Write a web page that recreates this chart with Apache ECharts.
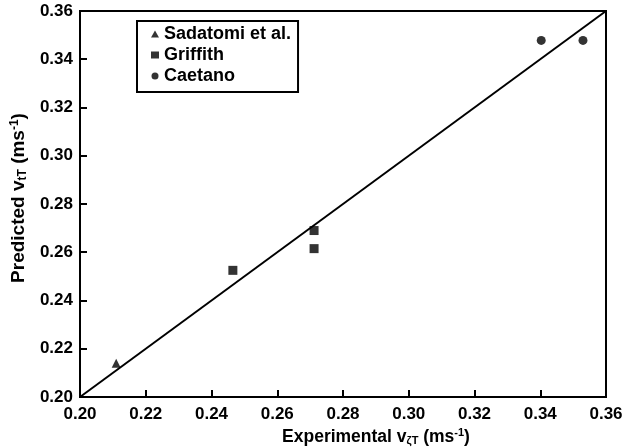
<!DOCTYPE html>
<html>
<head>
<meta charset="utf-8">
<script src="https://cdn.jsdelivr.net/npm/echarts@6/dist/echarts.min.js"></script>
<style>
  html, body { margin: 0; padding: 0; background: #fff; }
  #chart { width: 626px; height: 447px; }
</style>
</head>
<body>
<div id="chart"></div>
<script>
// Measured vs. predicted translational velocity
const sadatomi = [[0.211, 0.214]];
const griffith = [[0.2465, 0.2525], [0.2712, 0.2690], [0.2712, 0.2615]];
const caetano = [[0.3403, 0.3478], [0.3530, 0.3478]];
const parityLine = [[0.20, 0.20], [0.36, 0.36]];
const axisMin = 0.20, axisMax = 0.36, axisStep = 0.02;

const FONT = '"Liberation Sans", Arial, sans-serif';
const labelStyle = { fontFamily: FONT, fontWeight: 'bold', fontSize: 17, color: '#000' };
function nameStyle(size, padding) {
  return {
    fontFamily: FONT, fontWeight: 'bold', fontSize: size, color: '#000', padding: padding,
    rich: {
      sub: { fontFamily: FONT, fontWeight: 'bold', fontSize: Math.round(size * 0.65), color: '#000', padding: [9, 0, 0, 0] },
      sup: { fontFamily: FONT, fontWeight: 'bold', fontSize: Math.round(size * 0.65), color: '#000', padding: [0, 0, 7, 0] }
    }
  };
}

const chart = echarts.init(document.getElementById('chart'));
chart.setOption({
  backgroundColor: '#fff',
  animation: false,
  grid: {
    left: 80, right: 20, top: 11, bottom: 50,
    containLabel: false, outerBoundsMode: 'none',
    show: true, borderColor: '#000', borderWidth: 2
  },
  legend: {
    data: ['Sadatomi et al.', 'Griffith', 'Caetano'],
    orient: 'vertical',
    left: 137, top: 21,
    borderColor: '#000', borderWidth: 2,
    padding: [4, 7, 7, 14],
    itemGap: 3, itemWidth: 8, itemHeight: 7,
    textStyle: { fontFamily: FONT, fontWeight: 'bold', fontSize: 18, color: '#000' }
  },
  xAxis: {
    type: 'value', min: axisMin, max: axisMax, interval: axisStep,
    name: 'Experimental v{sub|ζT} (ms{sup|-1})',
    nameLocation: 'middle', nameGap: 29,
    nameTextStyle: nameStyle(17.5, [0, 0, 0, 66]),
    axisLine: { show: true, lineStyle: { color: '#000', width: 2 } },
    axisTick: { show: true, inside: true, length: 7, lineStyle: { color: '#000', width: 2 } },
    axisLabel: Object.assign({ margin: 9, formatter: v => v.toFixed(2) }, labelStyle),
    splitLine: { show: false }
  },
  yAxis: {
    type: 'value', min: axisMin, max: axisMax, interval: axisStep,
    name: 'Predicted v{sub|tT} (ms{sup|-1})',
    nameLocation: 'middle', nameGap: 47,
    nameTextStyle: nameStyle(19, [0, 0, 0, 12]),
    axisLine: { show: true, lineStyle: { color: '#000', width: 2 } },
    axisTick: { show: true, inside: true, length: 7, lineStyle: { color: '#000', width: 2 } },
    axisLabel: Object.assign({ margin: 7, formatter: v => v.toFixed(2) }, labelStyle),
    splitLine: { show: false }
  },
  series: [
    {
      name: 'parity', type: 'line', data: parityLine, symbol: 'none',
      lineStyle: { color: '#000', width: 2 }, silent: true
    },
    {
      name: 'Sadatomi et al.', type: 'scatter', data: sadatomi,
      symbol: 'triangle', symbolSize: 9, itemStyle: { color: '#000' }
    },
    {
      name: 'Griffith', type: 'scatter', data: griffith,
      symbol: 'rect', symbolSize: 9, itemStyle: { color: '#000' }
    },
    {
      name: 'Caetano', type: 'scatter', data: caetano,
      symbol: 'circle', symbolSize: 9, itemStyle: { color: '#000' }
    }
  ]
});
</script>
</body>
</html>
